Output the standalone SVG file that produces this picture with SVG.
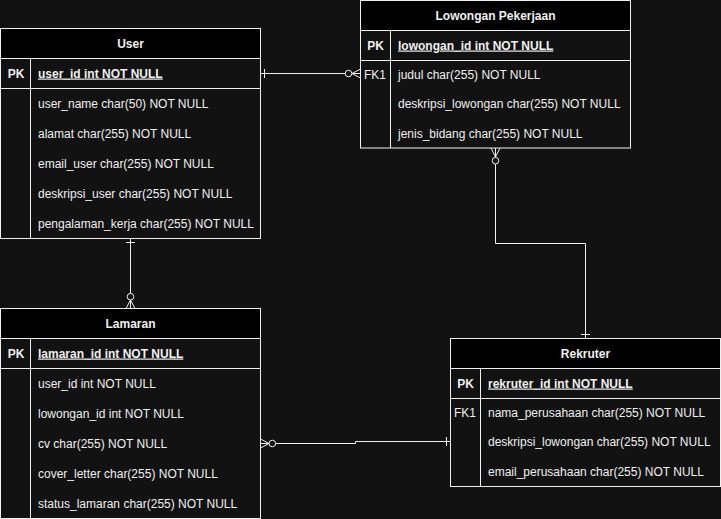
<svg xmlns="http://www.w3.org/2000/svg" width="721" height="519" viewBox="0 0 721 519">
  <style>
    .bg { fill: #121212; }
    .box { fill: #121212; stroke: #f0f0f0; stroke-width: 1; }
    .head { fill: #000000; stroke: #f0f0f0; stroke-width: 1; }
    .ln { stroke: #f0f0f0; stroke-width: 1; fill: none; }
    text { font-family: "Liberation Sans", Arial, Helvetica, sans-serif; font-size: 12px; fill: #f0f0f0; }
    .title { font-weight: bold; text-anchor: middle; }
    .key { font-weight: bold; text-anchor: middle; }
    .pk { font-weight: bold; text-decoration: underline; }
    .fk { text-anchor: middle; }
    .conn { stroke: #f0f0f0; stroke-width: 1; fill: none; }
    .end { stroke: #f0f0f0; stroke-width: 1; fill: #121212; }
  </style>

  <rect class="bg" x="0" y="0" width="721" height="519"/>

  <!-- Relationship lines -->
  <g id="connectors">
    <!-- User 1 — 0..* Lowongan Pekerjaan -->
    <path class="conn" d="M260.5,73.5 H360.5"/>
    <path class="conn" d="M264.5,69 V78"/>
    <path class="conn" d="M352,73.5 L360.5,69 M352,73.5 L360.5,78"/>
    <circle class="end" cx="348.5" cy="73.5" r="3.3"/>

    <!-- User 1 — 0..* Lamaran -->
    <path class="conn" d="M130.5,238 V308.5"/>
    <path class="conn" d="M126,242.5 H135"/>
    <path class="conn" d="M130.5,300 L126,308.5 M130.5,300 L135,308.5"/>
    <circle class="end" cx="130.5" cy="296.7" r="3.3"/>

    <!-- Lamaran 0..* — 1 Rekruter -->
    <path class="conn" d="M260.5,443.5 H355.5 V441.5 H450.5"/>
    <path class="conn" d="M446.5,437 V446"/>
    <path class="conn" d="M269,443.5 L260.5,439 M269,443.5 L260.5,448"/>
    <circle class="end" cx="272.3" cy="443.5" r="3.3"/>

    <!-- Lowongan Pekerjaan 0..* — 1 Rekruter -->
    <path class="conn" d="M495.5,148 V243.5 H585.5 V338.5"/>
    <path class="conn" d="M581,334.5 H590"/>
    <path class="conn" d="M495.5,157 L491,148 M495.5,157 L500,148"/>
    <circle class="end" cx="495.5" cy="160.7" r="3.3"/>
  </g>

  <!-- User -->
  <g id="user">
    <rect class="box" x="0.5" y="28.5" width="260" height="210"/>
    <rect class="head" x="0.5" y="28.5" width="260" height="30"/>
    <path class="ln" d="M0.5,88.5 H260.5 M30.5,58.5 V238.5"/>
    <text class="title" x="130.5" y="47.5">User</text>
    <text class="key" x="16" y="77.5">PK</text>
    <text class="pk" x="38" y="77.5">user_id int NOT NULL</text>
    <text x="38" y="107.5">user_name char(50) NOT NULL</text>
    <text x="38" y="137.5">alamat char(255) NOT NULL</text>
    <text x="38" y="167.5">email_user char(255) NOT NULL</text>
    <text x="38" y="197.5">deskripsi_user char(255) NOT NULL</text>
    <text x="38" y="227.5">pengalaman_kerja char(255) NOT NULL</text>
  </g>

  <!-- Lowongan Pekerjaan -->
  <g id="lowongan">
    <rect class="box" x="360.5" y="0.5" width="270" height="147.5"/>
    <rect class="head" x="360.5" y="0.5" width="270" height="30"/>
    <path class="ln" d="M360.5,60.5 H630.5 M390.5,30.5 V148"/>
    <text class="title" x="495.5" y="19.5">Lowongan Pekerjaan</text>
    <text class="key" x="375.5" y="49.5">PK</text>
    <text class="pk" x="398" y="49.5">lowongan_id int NOT NULL</text>
    <text class="fk" x="375" y="78.5">FK1</text>
    <text x="398" y="78.5">judul char(255) NOT NULL</text>
    <text x="398" y="107.5">deskripsi_lowongan char(255) NOT NULL</text>
    <text x="398" y="137.5">jenis_bidang char(255) NOT NULL</text>
  </g>

  <!-- Lamaran -->
  <g id="lamaran">
    <rect class="box" x="0.5" y="308.5" width="260" height="210"/>
    <rect class="head" x="0.5" y="308.5" width="260" height="30"/>
    <path class="ln" d="M0.5,368.5 H260.5 M30.5,338.5 V518.5"/>
    <text class="title" x="130.5" y="327.5">Lamaran</text>
    <text class="key" x="16" y="357.5">PK</text>
    <text class="pk" x="38" y="357.5">lamaran_id int NOT NULL</text>
    <text x="38" y="387.5">user_id int NOT NULL</text>
    <text x="38" y="417.5">lowongan_id int NOT NULL</text>
    <text x="38" y="447.5">cv char(255) NOT NULL</text>
    <text x="38" y="477.5">cover_letter char(255) NOT NULL</text>
    <text x="38" y="507.5">status_lamaran char(255) NOT NULL</text>
  </g>

  <!-- Rekruter -->
  <g id="rekruter">
    <rect class="box" x="450.5" y="338.5" width="270" height="148"/>
    <rect class="head" x="450.5" y="338.5" width="270" height="30"/>
    <path class="ln" d="M450.5,398.5 H720.5 M480.5,368.5 V486.5"/>
    <text class="title" x="585.5" y="357.5">Rekruter</text>
    <text class="key" x="465.5" y="387.5">PK</text>
    <text class="pk" x="488" y="387.5">rekruter_id int NOT NULL</text>
    <text class="fk" x="465" y="416.5">FK1</text>
    <text x="488" y="416.5">nama_perusahaan char(255) NOT NULL</text>
    <text x="488" y="446">deskripsi_lowongan char(255) NOT NULL</text>
    <text x="488" y="475.5">email_perusahaan char(255) NOT NULL</text>
  </g>
</svg>
